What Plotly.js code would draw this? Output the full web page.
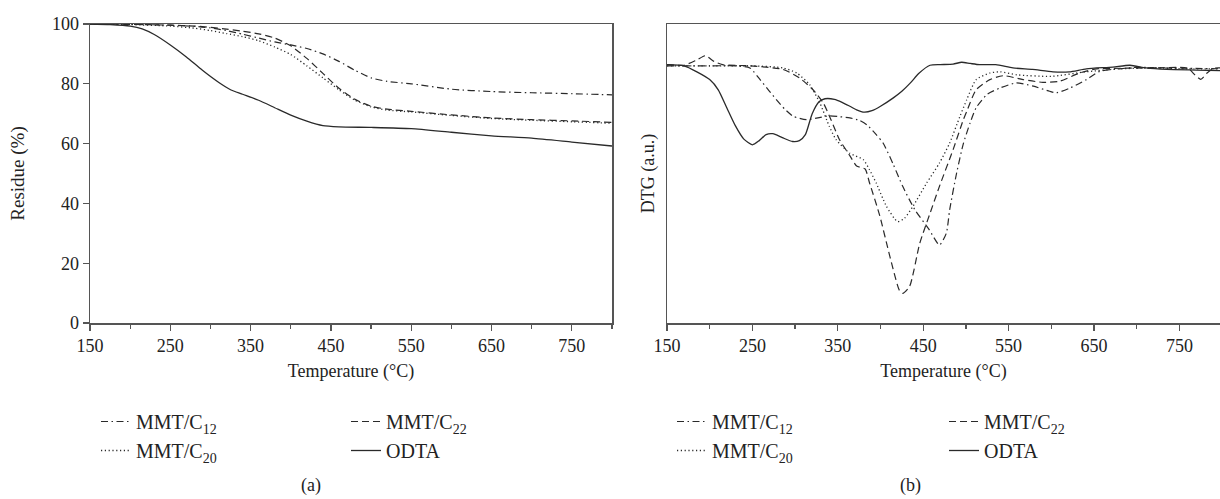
<!DOCTYPE html>
<html>
<head>
<meta charset="utf-8">
<script src="https://cdn.plot.ly/plotly-3.0.1.min.js"></script>
<style>html,body{margin:0;padding:0;background:#fff;}#chart{width:1220px;height:499px;}</style>
</head>
<body>
<div id="chart"></div>
<script>
// ---------- (a) TGA residue (%) ----------
const tgaT_C12 = [150,200,250,280,300,320,340,360,380,400,420,440,460,480,500,520,550,600,650,700,750,800];
const tgaR_C12 = [100,99.9,99.6,99.2,98.7,97.8,96.6,95.3,94,93,91.8,90,87.5,84.5,82,80.8,80,78.2,77.4,77,76.7,76.3];
const tgaT_C22 = [150,200,250,280,300,320,340,360,380,400,420,440,460,480,500,520,550,600,650,700,750,800];
const tgaR_C22 = [100,99.9,99.6,99.3,98.9,98.3,97.6,96.7,95.3,92.7,88.5,83.5,78.5,74.8,72.5,71.5,70.8,69.6,68.6,68,67.6,67.1];
const tgaT_C20 = [150,200,250,280,300,320,340,360,380,400,420,440,460,480,500,520,550,600,650,700,750,800];
const tgaR_C20 = [100,99.8,99.3,98.6,97.8,96.8,95.8,94.4,92.3,89.8,86,82,78,74.5,72.3,71.2,70.6,69.4,68.4,67.8,67.3,66.8];
const tgaT_ODTA = [150,175,200,215,230,250,270,290,310,325,340,360,380,400,420,440,460,500,550,600,650,700,750,800];
const tgaR_ODTA = [100,99.8,99.3,98.4,96.5,93,89,84.5,80.5,78,76.5,74.5,72,69.5,67.5,66,65.6,65.4,65,63.8,62.6,61.8,60.5,59.2];

// ---------- (b) DTG (a.u.) ----------
const dtgT_C12 = [150,200,230,247,259,270,278,288,298,313,325,340,352,364,375,384,395,403,415,426,440,457,469,477,481,489,497,505,512,525,540,559,579,598,606,622,641,657,680,700,730,760,800];
const dtgV_C12 = [86,86,86,85.3,81.4,77.5,74.7,71.5,69.1,68,68.5,69.3,69,68.6,67.8,66.3,63,60.2,53,45.7,38,31.2,26.1,30,37.9,50,60,67,72,76.5,78.6,80.3,79.2,77.5,77,78.6,81.4,84.2,85,85.5,85.3,85.2,85];
const dtgT_C22 = [150,170,185,195,205,215,247,286,305,321,333,342,352,364,372,382,387,399,411,422,426,434,446,458,469,485,497,501,512,528,544,567,590,610,633,653,680,720,760,768,775,782,790,800];
const dtgV_C22 = [86.4,86.2,88,89.4,87.5,86.4,86,84.8,82,78,73.6,68,61.3,56,52.5,51.5,47,36,22.2,11,9.9,12.2,26.7,36.7,45.7,58,68,70.8,78,81.4,82.7,81.4,80.5,80.9,83.6,85,85.2,85.3,85.2,83,81.5,83.5,85.2,85.3];
const dtgT_C20 = [150,200,250,286,302,317,329,340,348,364,380,387,395,407,420,428,438,454,469,481,493,501,512,528,540,560,600,640,680,720,760,800];
const dtgV_C20 = [86,86,86,85.3,83.6,79.7,73.6,65.8,61.3,56.8,54.6,51.3,46.8,39,33.9,35,39,46.8,53.5,60.2,69.1,74.7,81.4,83.6,84,83,82.5,84,85,85.3,85,85];
const dtgT_ODTA = [150,170,185,200,210,220,230,240,250,258,266,274,285,297,305,312,320,328,335,346,355,364,372,381,390,400,415,425,435,445,458,470,485,495,505,516,535,555,578,602,621,641,672,692,711,735,770,800];
const dtgV_ODTA = [86.4,86,84,81.4,78,72,66,61.5,59.6,61,63,63.3,62,60.7,61,63,70,74,75,74.8,73.8,72.5,71.3,70.5,71,72.5,75.3,77.5,80.3,83.5,86.2,86.4,86.6,87.2,86.8,86.4,86.4,85.3,84.8,84,84,85,85.6,86.2,85.3,84.8,84.6,84.4];

const seriesNames = ['MMT/C<sub>12</sub>','MMT/C<sub>22</sub>','MMT/C<sub>20</sub>','ODTA'];
const panelLabels = ['(a)','(b)'];
const xTitle = 'Temperature (°C)';
const yTitleA = 'Residue (%)';
const yTitleB = 'DTG (a.u.)';

const INK = '#2a2a2a';
const AX = '#555555';
const FONT = 'Liberation Serif, Times New Roman, serif';
const dashes = ['7px,3.5px,1.5px,3.5px','7px,4px','1.2px,2.6px','solid'];
const widths = [1.2,1.2,1.3,1.3];

const tga = [[tgaT_C12,tgaR_C12],[tgaT_C22,tgaR_C22],[tgaT_C20,tgaR_C20],[tgaT_ODTA,tgaR_ODTA]];
const dtg = [[dtgT_C12,dtgV_C12],[dtgT_C22,dtgV_C22],[dtgT_C20,dtgV_C20],[dtgT_ODTA,dtgV_ODTA]];
// legend column: C12,C20 in column 1; C22,ODTA in column 2
const legCol = [0,1,0,1];

const traces = [];
tga.forEach((d,i)=>{
  traces.push({x:d[0], y:d[1], type:'scatter', mode:'lines', name:seriesNames[i],
    line:{color:INK, width:widths[i], dash:dashes[i], shape:'spline', smoothing:0.6},
    xaxis:'x', yaxis:'y', legend: legCol[i]===0 ? 'legend' : 'legend2', hoverinfo:'skip'});
});
dtg.forEach((d,i)=>{
  traces.push({x:d[0], y:d[1], type:'scatter', mode:'lines', name:seriesNames[i],
    line:{color:INK, width:widths[i], dash:dashes[i], shape:'spline', smoothing:0.6},
    xaxis:'x2', yaxis:'y2', legend: legCol[i]===0 ? 'legend3' : 'legend4', hoverinfo:'skip'});
});

const W = 1220, H = 499, TOP = 24, BOT = 323;
const px = v => v / W;
const py = v => (BOT - v) / (BOT - TOP);   // paper y relative to plot area

const tickFont = {family:FONT, size:18, color:'#222'};
const xCommon = {
  tick0:150, dtick:100, ticks:'outside', ticklen:6, tickwidth:1.3, tickcolor:AX,
  showline:true, linecolor:AX, linewidth:1.5, mirror:true, showgrid:false, zeroline:false,
  tickfont:tickFont, automargin:false,
  minor:{dtick:50, tick0:150, ticks:'outside', ticklen:4, tickwidth:1.3, tickcolor:AX, showgrid:false},
  title:{text:xTitle, font:{family:FONT, size:18, color:'#222'}, standoff:9}
};

const legCommon = {font:{family:FONT, size:20, color:'#222'}, bgcolor:'rgba(0,0,0,0)',
  xanchor:'left', yanchor:'top', orientation:'v', itemclick:false, itemdoubleclick:false, tracegroupgap:0};

const legTop = 402;
const layout = {
  width:W, height:H, paper_bgcolor:'#fff', plot_bgcolor:'#fff',
  margin:{l:0, r:0, t:TOP, b:H-BOT, pad:0},
  font:{family:FONT, color:'#222'},
  showlegend:true,
  xaxis: Object.assign({}, xCommon, {domain:[px(90), px(612)], range:[150,800], anchor:'y'}),
  yaxis: {domain:[0,1], range:[0,100], dtick:20, ticks:'outside', ticklen:6, tickwidth:1.3, tickcolor:AX,
    showline:true, linecolor:AX, linewidth:1.5, mirror:true, showgrid:false, zeroline:false,
    tickfont:tickFont, automargin:false, anchor:'x',
    title:{text:yTitleA, font:{family:FONT, size:19, color:'#222'}, standoff:22}},
  xaxis2: Object.assign({}, xCommon, {domain:[px(667), 1], range:[150,797.5], anchor:'y2'}),
  yaxis2: {domain:[0,1], range:[0,100], showticklabels:false, ticks:'', showline:true, linecolor:AX,
    linewidth:1.5, mirror:false, showgrid:false, zeroline:false, automargin:false, anchor:'x2',
    title:{text:yTitleB, font:{family:FONT, size:18, color:'#222'}, standoff:6}},
  legend: Object.assign({}, legCommon, {x:px(96), y:py(legTop)}),
  legend2: Object.assign({}, legCommon, {x:px(346), y:py(legTop)}),
  legend3: Object.assign({}, legCommon, {x:px(672), y:py(legTop)}),
  legend4: Object.assign({}, legCommon, {x:px(944), y:py(legTop)}),
  annotations: [
    {text:panelLabels[0], xref:'paper', yref:'paper', x:px(311), y:py(485), showarrow:false,
     font:{family:FONT, size:18, color:'#222'}, xanchor:'center', yanchor:'middle'},
    {text:panelLabels[1], xref:'paper', yref:'paper', x:px(910), y:py(485), showarrow:false,
     font:{family:FONT, size:18, color:'#222'}, xanchor:'center', yanchor:'middle'}
  ]
};

Plotly.newPlot('chart', traces, layout, {displayModeBar:false, staticPlot:true});
</script>
</body>
</html>
